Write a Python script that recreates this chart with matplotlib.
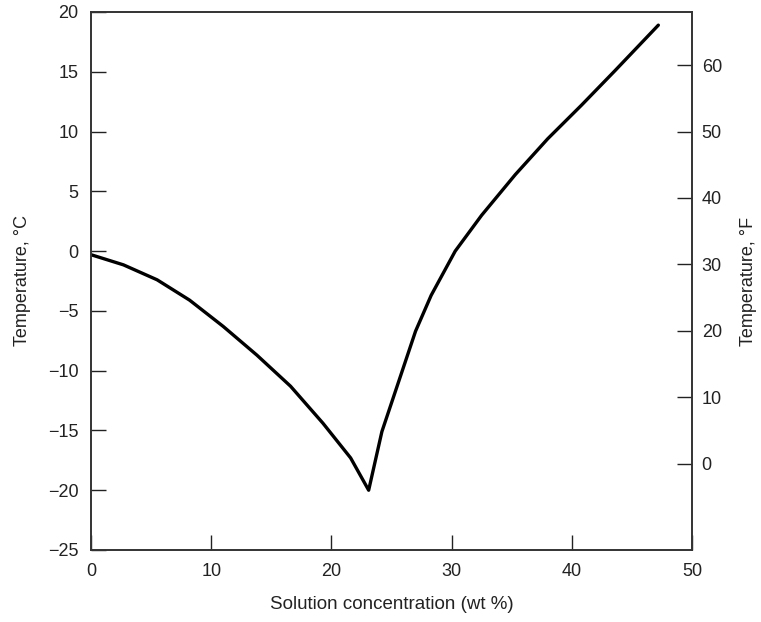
import matplotlib
matplotlib.use("Agg")
import matplotlib.pyplot as plt

# Data (freezing curve, wt % vs degC)
conc = [0.0, 2.7, 5.5, 8.2, 11.0, 13.8, 16.6, 19.3, 21.6, 23.1,
        24.2, 25.6, 27.0, 28.3, 30.3, 32.5, 35.3, 38.0, 40.8, 43.6, 47.2]
temp_c = [-0.3, -1.15, -2.4, -4.1, -6.3, -8.7, -11.3, -14.4, -17.3, -20.0,
          -15.1, -10.9, -6.7, -3.7, 0.0, 3.0, 6.4, 9.4, 12.2, 15.1, 18.9]

x_ticks = [0, 10, 20, 30, 40, 50]
yc_ticks = [-25, -20, -15, -10, -5, 0, 5, 10, 15, 20]
yf_ticks = [0, 10, 20, 30, 40, 50, 60]

plt.rcParams['font.family'] = ['Liberation Sans', 'DejaVu Sans']
FS = 13

fig = plt.figure(figsize=(7.61, 6.22), dpi=100)
ax = fig.add_axes([91/761, 1 - 550/622, (692 - 91)/761, (550 - 12)/622])

ax.plot(conc, temp_c, color='black', lw=2.4, solid_joinstyle='round',
        solid_capstyle='round')
ax.set_xlim(0, 50)
ax.set_ylim(-25, 20)
ax.set_xticks(x_ticks)
ax.set_yticks(yc_ticks)
ax.set_yticklabels([str(v).replace('-', '\u2212') for v in yc_ticks])
ax.tick_params(direction='in', length=11, width=1.0, labelsize=FS,
               colors='#222222')
ax.tick_params(axis='x', pad=9)
ax.tick_params(axis='y', pad=9, right=False)
ax.set_xlabel('Solution concentration (wt %)', fontsize=FS + 0.5,
              labelpad=12, color='#222222')
ax.set_ylabel('Temperature, \u00b0C', fontsize=FS, labelpad=12,
              color='#222222')
for s in ax.spines.values():
    s.set_linewidth(1.2)
    s.set_color('#333333')

ax2 = ax.twinx()
ax2.set_ylim(-25 * 1.8 + 32, 20 * 1.8 + 32)
ax2.set_yticks(yf_ticks)
ax2.tick_params(direction='in', length=11, width=1.0, labelsize=FS, pad=7,
                colors='#222222')
ax2.set_ylabel('Temperature, \u00b0F', fontsize=FS, labelpad=13,
               color='#222222')
for s in ax2.spines.values():
    s.set_linewidth(1.2)
    s.set_color('#333333')

fig.savefig('out.png', dpi=100)
